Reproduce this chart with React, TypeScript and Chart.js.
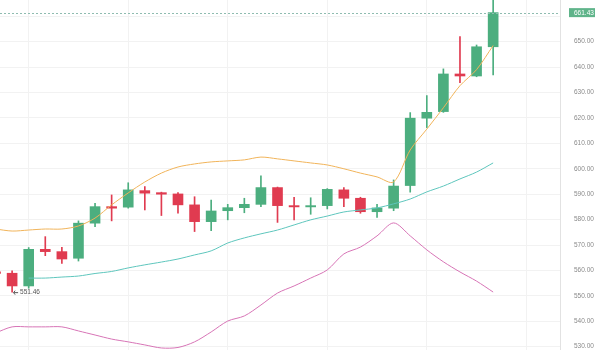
import { useEffect, useRef } from "react";
import { Chart, registerables } from "chart.js";

Chart.register(...registerables);

// Candle values (index = bar position)
const opens = [559.5, 558.9, 553.9, 568.3, 567.4, 564.8, 578.6, 585.1, 584.9, 591.4, 590.6, 590.1, 585.8, 579.2, 583.5, 584.7, 586.0, 592.6, 585.5, 585.0, 585.5, 591.7, 588.4, 583.1, 584.5, 593.4, 619.9, 622.5, 637.3, 636.5, 648.0];
const closes = [558.8, 553.9, 568.3, 567.4, 564.5, 578.6, 585.1, 584.5, 591.7, 590.4, 590.0, 585.8, 579.2, 583.4, 584.7, 586.0, 592.6, 585.5, 585.0, 585.5, 591.9, 588.4, 583.1, 584.6, 593.2, 619.9, 622.2, 637.3, 636.5, 648.0, 661.43];
const highs = [561.0, 559.8, 569.0, 573.3, 569.1, 579.5, 586.4, 589.7, 594.5, 593.0, 590.8, 590.6, 589.0, 587.7, 586.0, 588.4, 597.2, 592.8, 588.8, 588.6, 592.2, 592.6, 588.8, 586.0, 595.6, 622.1, 628.8, 639.3, 652.0, 648.7, 668.0];
const lows = [556.0, 551.46, 553.0, 565.8, 562.8, 563.7, 577.2, 579.5, 584.5, 583.8, 581.6, 582.5, 575.3, 575.6, 579.9, 582.7, 585.1, 578.9, 579.9, 582.1, 584.2, 585.1, 582.5, 580.9, 583.5, 590.8, 616.2, 622.2, 633.9, 636.2, 636.9];

// Indicator lines
const orangeLine = [576.3, 575.5, 575.9, 576.3, 576.3, 577.5, 580.6, 585.8, 590.5, 594.8, 598.3, 600.7, 601.9, 602.7, 603.1, 603.5, 604.6, 603.9, 603.1, 602.3, 601.5, 600.0, 598.3, 596.8, 594.8, 607.4, 615.6, 624.0, 632.7, 639.0, 648.5];
const tealLine = [null, null, 557.0, 557.0, 557.4, 557.8, 558.8, 559.6, 561.0, 562.2, 563.3, 564.5, 566.1, 567.7, 570.8, 572.8, 574.4, 575.9, 577.9, 579.9, 581.4, 583.0, 583.8, 584.6, 586.2, 588.1, 590.9, 593.2, 596.0, 598.7, 602.3];
const pinkLine = [535.4, 537.8, 537.8, 537.8, 537.8, 536.2, 534.6, 533.0, 531.9, 530.7, 529.5, 529.7, 531.9, 535.8, 540.1, 542.1, 546.4, 551.1, 553.9, 557.0, 560.2, 566.5, 569.2, 573.6, 578.7, 573.6, 568.1, 563.4, 559.4, 555.8, 551.5];

const lastPrice = 661.43;
const lastPriceLabel = "661.43";
const lowIndex = 1;
const lowLabel = "551.46";
const verticalGridAt = [2, 8, 14, 20, 26, 32];

const GREEN = "#4cae7f";
const RED = "#e03b50";
const FONT = "'Liberation Sans', Arial, sans-serif";

export default function App() {
  const ref = useRef<HTMLCanvasElement | null>(null);

  useEffect(() => {
    const canvas = ref.current;
    if (!canvas) return;
    const colors = opens.map((o, i) => (closes[i] >= o ? GREEN : RED));

    const overlay = {
      id: "overlay",
      afterDatasetsDraw(chart: any) {
        const { ctx, chartArea, scales } = chart;
        const y = scales.y.getPixelForValue(lastPrice);
        ctx.save();
        ctx.strokeStyle = "#8fbcb0";
        ctx.lineWidth = 1;
        ctx.setLineDash([2, 2]);
        ctx.beginPath();
        ctx.moveTo(chartArea.left, Math.round(y) + 0.5);
        ctx.lineTo(chartArea.right, Math.round(y) + 0.5);
        ctx.stroke();
        ctx.setLineDash([]);
        // price tag
        ctx.fillStyle = "#5fb48a";
        ctx.fillRect(chartArea.right + 9, y - 4.5, 26, 9);
        ctx.fillStyle = "#ffffff";
        ctx.font = `6.5px ${FONT}`;
        ctx.textAlign = "left";
        ctx.textBaseline = "middle";
        ctx.fillText(lastPriceLabel, chartArea.right + 14, y + 0.5);
        // low marker
        const lx = scales.x.getPixelForValue(lowIndex);
        const ly = scales.y.getPixelForValue(lows[lowIndex]);
        ctx.strokeStyle = "#555";
        ctx.beginPath();
        ctx.moveTo(lx + 1.5, ly + 0.5);
        ctx.lineTo(lx + 6, ly + 0.5);
        ctx.moveTo(lx + 3, ly - 1.5);
        ctx.lineTo(lx + 1.5, ly + 0.5);
        ctx.lineTo(lx + 3, ly + 2.5);
        ctx.stroke();
        ctx.fillStyle = "#555";
        ctx.fillText(lowLabel, lx + 8, ly + 0.5);
        ctx.restore();
      },
    };

    const chart = new Chart(canvas, {
      type: "bar",
      data: {
        datasets: [
          {
            type: "line",
            data: orangeLine.map((v, i) => ({ x: i, y: v })),
            borderColor: "#f1b45a",
            borderWidth: 1,
            pointRadius: 0,
            tension: 0.3,
            order: 0,
          } as any,
          {
            type: "line",
            data: tealLine.map((v, i) => ({ x: i, y: v })),
            borderColor: "#5ec6bd",
            borderWidth: 1,
            pointRadius: 0,
            tension: 0.3,
            order: 0,
          } as any,
          {
            type: "line",
            data: pinkLine.map((v, i) => ({ x: i, y: v })),
            borderColor: "#d774b6",
            borderWidth: 1,
            pointRadius: 0,
            tension: 0.3,
            order: 0,
          } as any,
          {
            type: "bar",
            data: lows.map((l, i) => ({ x: i, y: [l, highs[i]] })),
            backgroundColor: colors,
            barThickness: 1,
            grouped: false,
            order: 2,
          } as any,
          {
            type: "bar",
            data: opens.map((o, i) => ({ x: i, y: [o, closes[i]] })),
            backgroundColor: colors,
            barThickness: 10,
            grouped: false,
            order: 1,
          } as any,
        ],
      },
      options: {
        responsive: false,
        animation: false,
        devicePixelRatio: 1,
        layout: { padding: 0 },
        plugins: { legend: { display: false }, tooltip: { enabled: false } },
        scales: {
          x: {
            type: "linear",
            min: 0.27,
            max: 34.03,
            offset: false,
            ticks: { display: false },
            grid: { color: "#f2f2f2", drawTicks: false, offset: false },
            border: { display: false },
            afterBuildTicks: (axis: any) => {
              axis.ticks = verticalGridAt.map((v) => ({ value: v }));
            },
          },
          y: {
            type: "linear",
            position: "right",
            min: 528.7,
            max: 666.4,
            ticks: {
              stepSize: 10,
              includeBounds: false,
              padding: 14,
              color: "#8a8a8a",
              font: { size: 6.5, family: FONT },
              callback: (v: any) => (Number(v) > 655 ? "" : Number(v).toFixed(2)),
            },
            grid: { color: "#f2f2f2", drawTicks: false },
            border: { display: true, color: "#e2e2e2" },
            afterFit: (scale: any) => {
              scale.width = 40;
              scale.paddingTop = 0;
              scale.paddingBottom = 0;
            },
          },
        },
      },
      plugins: [overlay],
    });
    return () => chart.destroy();
  }, []);

  return (
    <div style={{ position: "fixed", left: 0, top: 0, width: 600, height: 350, background: "#fff" }}>
      <canvas ref={ref} width={600} height={350} style={{ display: "block" }} />
    </div>
  );
}
